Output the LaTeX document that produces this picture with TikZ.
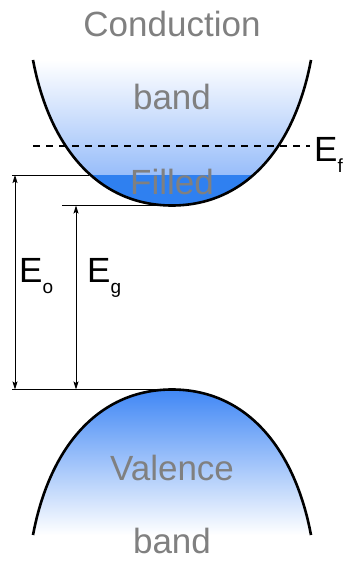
\documentclass[tikz,border=0pt]{standalone}
\usepackage{fontspec}
\setmainfont{Liberation Sans}
\usetikzlibrary{arrows.meta, calc}
\definecolor{fillBlue}{RGB}{47,128,240}
\definecolor{deepBlue}{RGB}{64,135,245}
\definecolor{midBlue}{RGB}{125,172,248}
\definecolor{paleBlue}{RGB}{208,226,253}
\definecolor{labelGray}{RGB}{128,128,128}

\begin{document}
\begin{tikzpicture}[
  x=1pt, y=-1pt,
  band/.style={line width=2.6pt},
  lbl/.style={font=\fontsize{35}{40}\selectfont, text=labelGray, anchor=base, inner sep=0pt},
  elbl/.style={font=\fontsize{35}{40}\selectfont, anchor=base west, inner sep=0pt},
  ref/.style={line width=0.8pt},
  dim/.style={line width=0.8pt, {Stealth[length=8pt,width=5pt,inset=1.5pt]}-{Stealth[length=8pt,width=5pt,inset=1.5pt]}},
]
  \useasboundingbox (0,0) rectangle (344,561);
  \newcommand{\sub}[1]{{\fontsize{19}{19}\selectfont\raisebox{-11pt}{#1}}}

  % conduction band
  \coordinate (cb left) at (33,60);
  \coordinate (cb right) at (311,60);
  \coordinate (cb min) at (172,205.5);
  \shade[top color=white, middle color=paleBlue, bottom color=midBlue]
    (cb left) .. controls (50,150) and (100,205.5) .. (cb min)
    .. controls (244,205.5) and (294,150) .. (cb right) -- cycle;
  \begin{scope}
    \clip (cb left) .. controls (50,150) and (100,205.5) .. (cb min)
      .. controls (244,205.5) and (294,150) .. (cb right) -- cycle;
    \fill[fillBlue] (0,175) rectangle (344,210);
  \end{scope}
  \draw[band] (cb left) .. controls (50,150) and (100,205.5) .. (cb min)
    .. controls (244,205.5) and (294,150) .. (cb right);

  % valence band
  \coordinate (vb left) at (33,535);
  \coordinate (vb right) at (311,535);
  \coordinate (vb max) at (172,389.5);
  \shade[top color=deepBlue, middle color=paleBlue, bottom color=white]
    (vb left) .. controls (50,445) and (100,389.5) .. (vb max)
    .. controls (244,389.5) and (294,445) .. (vb right) -- cycle;
  \draw[band] (vb left) .. controls (50,445) and (100,389.5) .. (vb max)
    .. controls (244,389.5) and (294,445) .. (vb right);

  % Fermi level
  \coordinate (ef left) at (33,146);
  \coordinate (ef right) at (310,146);
  \draw[line width=1.2pt, dash pattern=on 7pt off 6pt] (ef left) -- (ef right);
  \node[elbl] (ef) at (314,162) {E\sub{f}};

  % reference lines
  \coordinate (fill edge) at (89,175);
  \coordinate (eo top) at (15,175);
  \coordinate (eo end) at (12,175);
  \coordinate (eg top) at (76,205.5);
  \coordinate (eg end) at (62,205.5);
  \coordinate (eo bot) at (15,389.5);
  \coordinate (eg bot) at (76,389.5);
  \coordinate (vb end) at (12,389.5);
  \draw[ref] (eo end) -- (fill edge);
  \draw[ref] (eg end) -- (cb min);
  \draw[ref] (vb end) -- (vb max);

  % gaps
  \draw[dim] (eo top) -- (eo bot);
  \draw[dim] (eg top) -- (eg bot);
  \node[elbl] (eo) at (19,282) {E\sub{o}};
  \node[elbl] (eg) at (87,282) {E\sub{g}};

  % band labels
  \node[lbl] (cond) at (172,37) {Conduction};
  \node[lbl] (cband) at (172,110) {band};
  \node[lbl] (filled) at (172,195) {Filled};
  \node[lbl] (val) at (172,480) {Valence};
  \node[lbl] (vband) at (172,553) {band};
\end{tikzpicture}
\end{document}
